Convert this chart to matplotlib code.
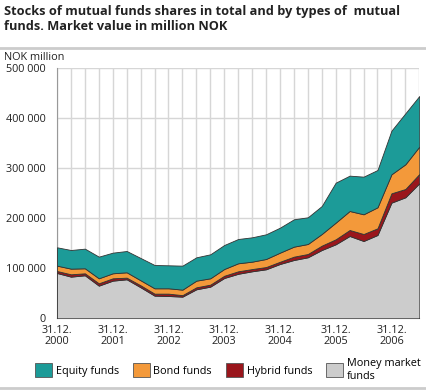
import matplotlib
matplotlib.use("Agg")
import matplotlib.pyplot as plt
from matplotlib.patches import Patch
from matplotlib.lines import Line2D

# quarterly stocks, 31.12.2000 - 30.06.2007, million NOK
quarters = list(range(27))
tick_labels = ['31.12.\n2000', '31.12.\n2001', '31.12.\n2002', '31.12.\n2003',
               '31.12.\n2004', '31.12.\n2005', '31.12.\n2006']
money_market = [90600, 83300, 86000, 65300, 75300, 78000, 62000, 45300, 44600,
                43300, 58000, 63300, 80600, 89000, 94000, 98000, 108600, 116600,
                122000, 136600, 148000, 164600, 154600, 166600, 231300, 242000, 270000]
hybrid = [4000, 4700, 4000, 4700, 4700, 3300, 4000, 4000, 4700,
          3000, 4000, 4000, 4500, 5000, 4500, 4500, 4500, 6700,
          6600, 8700, 10000, 12000, 14000, 13400, 18700, 16600, 18600]
bond = [10700, 11300, 10000, 10000, 10000, 10700, 10000, 10700, 10700,
        11000, 13300, 12700, 13500, 16000, 14800, 16100, 18200, 20000,
        20000, 23300, 33300, 38000, 39400, 42000, 38000, 49400, 54700]
equity = [36700, 37300, 39300, 43300, 41300, 42600, 44600, 46600, 46000,
          48000, 46700, 48000, 48000, 48600, 48700, 49400, 50000, 54700,
          53400, 56000, 80000, 70700, 75300, 74600, 87300, 102000, 101300]

names = ['Equity funds', 'Bond funds', 'Hybrid funds', 'Money market\nfunds']
colors = ['#1c9b98', '#f3993a', '#9a161c', '#cccccc']

plt.rcParams['font.family'] = ['Open Sans', 'DejaVu Sans']

fig = plt.figure(figsize=(4.27, 3.91), dpi=100)
ax = fig.add_axes([57 / 427, 1 - 318.3 / 391, (419.3 - 57) / 427, 250 / 391])

ax.stackplot(quarters, money_market, hybrid, bond, equity,
             colors=[colors[3], colors[2], colors[1], colors[0]],
             edgecolor='#333333', linewidth=0.6, zorder=3)

ax.set_xlim(0, 26)
ax.set_ylim(0, 500000)
ax.set_xticks(quarters, minor=True)
ax.set_xticks(range(0, 25, 4))
ax.set_xticklabels(tick_labels, fontsize=7.8, color='#222222', linespacing=0.95)
ax.set_yticks(range(0, 500001, 100000))
ax.set_yticklabels(['0', '100 000', '200 000', '300 000', '400 000', '500 000'],
                   fontsize=7.8, color='#222222')
ax.tick_params(axis='both', which='both', length=0)
ax.tick_params(axis='x', pad=5)
ax.tick_params(axis='y', pad=8)
ax.grid(True, which='both', color='#d6d6d6', linewidth=1, zorder=0)
ax.set_axisbelow(True)
for side in ['top', 'right']:
    ax.spines[side].set_visible(False)
ax.spines['left'].set_color('#999999')
ax.spines['bottom'].set_color('#777777')

fig.text(4 / 427, 1 - 5 / 391,
         'Stocks of mutual funds shares in total and by types of  mutual\nfunds. Market value in million NOK',
         fontsize=9.2, fontweight='bold', va='top', ha='left', color='#222222', linespacing=1.15)
fig.add_artist(Line2D([0, 1], [1 - 48 / 391, 1 - 48 / 391], color='#cccccc', linewidth=2))
fig.text(4 / 427, 1 - 57 / 391, 'NOK million', fontsize=7.8, va='center', ha='left', color='#222222')
fig.add_artist(Line2D([0, 1], [1 - 388 / 391, 1 - 388 / 391], color='#cccccc', linewidth=2))

handles = [Patch(facecolor=c, edgecolor='#555555', linewidth=0.6) for c in colors]
fig.legend(handles, names, loc='center left', bbox_to_anchor=(35 / 427, 1 - 370 / 391), ncol=4,
           frameon=False, fontsize=7.8, handlelength=1.6, handleheight=1.6,
           handletextpad=0.3, columnspacing=1.3, borderaxespad=0, borderpad=0,
           labelspacing=0)

fig.savefig('out.png', dpi=100)
